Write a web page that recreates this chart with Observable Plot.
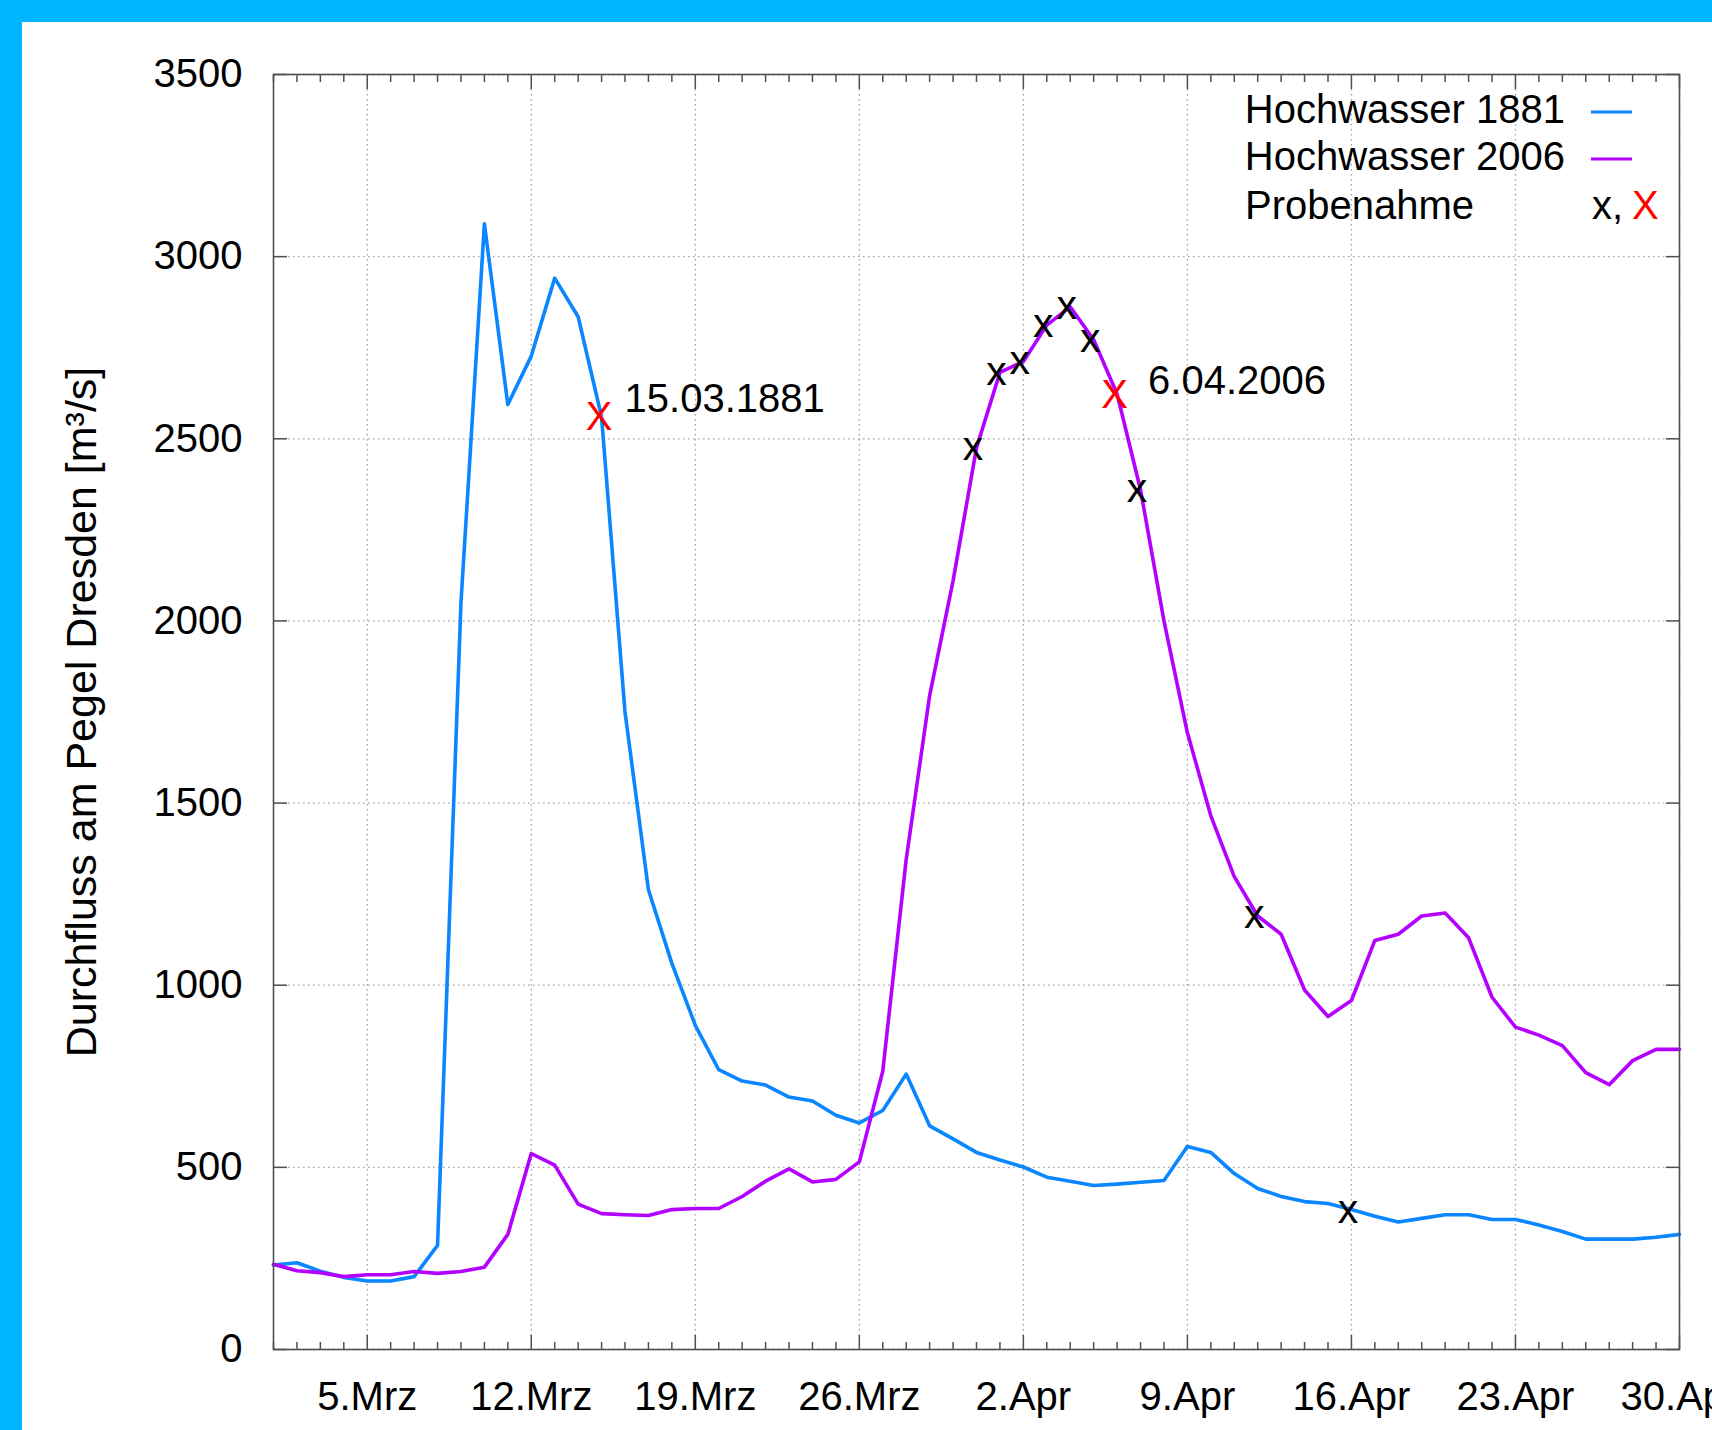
<!DOCTYPE html>
<html>
<head>
<meta charset="utf-8">
<script src="https://cdn.jsdelivr.net/npm/d3@7"></script>
<script src="https://cdn.jsdelivr.net/npm/@observablehq/plot@0.6"></script>
<style>
html, body { margin: 0; padding: 0; background: #00b6ff; width: 1712px; height: 1430px; overflow: hidden; }
#chart { position: absolute; left: 22px; top: 22px; width: 1690px; height: 1408px; background: #fff; overflow: hidden; }
#chart svg { overflow: hidden; }
</style>
</head>
<body>
<div id="chart"></div>
<script>
// ---- data (daily discharge, Pegel Dresden, m³/s), day 0 = 1 March ----
const startDay = [2006, 2, 1]; // common calendar axis (1 March)
const q1881 = [232, 238, 215, 198, 188, 188, 200, 286, 2050, 3090,
               2594, 2727, 2941, 2835, 2560, 1750, 1262, 1060, 890, 768,
               737, 726, 693, 682, 643, 622, 656, 756, 614, 578,
               541, 520, 501, 473, 462, 450, 454, 459, 464, 557,
               541, 483, 442, 420, 406, 401, 384, 366, 350, 360,
               370, 370, 357, 357, 342, 324, 303, 303, 303, 308, 316];
const q2006 = [234, 216, 211, 200, 205, 205, 214, 209, 214, 226,
               316, 538, 506, 399, 373, 370, 368, 384, 387, 387,
               420, 462, 496, 460, 467, 515, 764, 1345, 1795, 2110,
               2475, 2682, 2712, 2812, 2862, 2772, 2623, 2360, 2000, 1693,
               1465, 1298, 1190, 1140, 987, 914, 958, 1123, 1140, 1190,
               1198, 1130, 967, 885, 863, 834, 760, 727, 793, 824, 824];
const xTickDays = [4, 11, 18, 25, 32, 39, 46, 53, 60];
const xTickLabels = ["5.Mrz", "12.Mrz", "19.Mrz", "26.Mrz", "2.Apr", "9.Apr", "16.Apr", "23.Apr", "30.Apr"];
const yTicks = [0, 500, 1000, 1500, 2000, 2500, 3000, 3500];
// sampling days (Probenahme), as day index from 1 March
const samples1881Black = [46];                              // 16.04.1881
const samples2006Black = [30, 31, 32, 33, 34, 35, 37, 42];  // 31.03. – 12.04.2006
const samples1881Red = [14];                                // 15.03.1881
const samples2006Red = [36];                                // 06.04.2006
const redLabels1881 = ["15.03.1881"];
const redLabels2006 = ["6.04.2006"];
const legendTexts = ["Hochwasser 1881", "Hochwasser 2006", "Probenahme"];
const yLabel = "Durchfluss am Pegel Dresden [m³/s]";

// ---- build tables ----
const dayDate = (i) => new Date(Date.UTC(startDay[0], startDay[1], startDay[2] + i));
const rows1881 = q1881.map((q, i) => ({date: dayDate(i), q}));
const rows2006 = q2006.map((q, i) => ({date: dayDate(i), q}));
const pick = (rows, days) => days.map(d => rows[d]);
const majorDates = xTickDays.map(dayDate);
const labelOf = new Map(majorDates.map((d, i) => [+d, xTickLabels[i]]));
const minorDates = d3.range(q1881.length).map(dayDate).filter(d => !labelOf.has(+d));

const BLUE = "#0a86ff", PURPLE = "#b400ff", RED = "#ff0000", AX = "#505050";
const FONT = '"Liberation Sans", Arial, Helvetica, sans-serif';
const W = 1690, H = 1408;

const plot = Plot.plot({
  width: W, height: H,
  marginLeft: 251, marginRight: 33, marginTop: 52, marginBottom: 81,
  style: {fontFamily: FONT, fontSize: "40px", color: "#000", background: "#fff", overflow: "hidden"},
  x: {type: "utc", domain: [dayDate(0), dayDate(q1881.length - 1)]},
  y: {domain: [0, 3500]},
  marks: [
    Plot.gridX(majorDates, {stroke: "#a0a0a0", strokeOpacity: 1, strokeWidth: 1.3, strokeDasharray: "1.5,3.5"}),
    Plot.gridY(yTicks, {stroke: "#a0a0a0", strokeOpacity: 1, strokeWidth: 1.3, strokeDasharray: "1.5,3.5"}),
    Plot.lineY(rows1881, {x: "date", y: "q", stroke: BLUE, strokeWidth: 3.6}),
    Plot.lineY(rows2006, {x: "date", y: "q", stroke: PURPLE, strokeWidth: 3.6}),
    Plot.frame({stroke: AX, strokeWidth: 1.6}),
    // inward ticks (mirrored on all sides)
    Plot.axisX(majorDates, {anchor: "bottom", tickSize: -14, tickFormat: () => "", stroke: AX, strokeWidth: 1.5, label: null}),
    Plot.axisX(minorDates, {anchor: "bottom", tickSize: -7, tickFormat: () => "", stroke: AX, strokeWidth: 1.5, label: null}),
    Plot.axisX(majorDates, {anchor: "top", tickSize: -14, tickFormat: () => "", stroke: AX, strokeWidth: 1.5, label: null}),
    Plot.axisX(minorDates, {anchor: "top", tickSize: -7, tickFormat: () => "", stroke: AX, strokeWidth: 1.5, label: null}),
    Plot.axisY(yTicks, {anchor: "left", tickSize: -14, tickFormat: () => "", stroke: AX, strokeWidth: 1.5, label: null}),
    Plot.axisY(yTicks, {anchor: "right", tickSize: -14, tickFormat: () => "", stroke: AX, strokeWidth: 1.5, label: null}),
    // tick labels
    Plot.axisX(majorDates, {anchor: "bottom", tickSize: 0, tickPadding: 32, tickFormat: d => labelOf.get(+d), fill: "#000", fontSize: 40, label: null}),
    Plot.axisY(yTicks, {anchor: "left", tickSize: 0, tickPadding: 31, tickFormat: d => String(d), fill: "#000", fontSize: 40, label: null}),
    // y title
    Plot.text([yLabel], {frameAnchor: "left", textAnchor: "middle", rotate: -90, dx: -191, fontSize: 43, fill: "#000"}),
    // sampling markers
    Plot.text(pick(rows1881, samples1881Black), {x: "date", y: "q", text: () => "x", dx: -3.5, fontSize: 41, fill: "#000"}),
    Plot.text(pick(rows2006, samples2006Black), {x: "date", y: "q", text: () => "x", dx: -3.5, dy: -1, fontSize: 41, fill: "#000"}),
    Plot.text(pick(rows1881, samples1881Red), {x: "date", y: "q", text: () => "X", dx: -2.5, fontSize: 40, fill: RED}),
    Plot.text(pick(rows2006, samples2006Red), {x: "date", y: "q", text: () => "X", dx: -2.5, dy: 1, fontSize: 40, fill: RED}),
    // date annotations
    Plot.text(pick(rows1881, samples1881Red), {x: "date", y: "q", text: (d, i) => redLabels1881[i], textAnchor: "start", dx: 23, dy: -18, fontSize: 40, fill: "#000"}),
    Plot.text(pick(rows2006, samples2006Red), {x: "date", y: "q", text: (d, i) => redLabels2006[i], textAnchor: "start", dx: 31, dy: -13, fontSize: 40, fill: "#000"})
  ]
});
document.getElementById("chart").appendChild(plot);

// ---- legend (inside plot, top right) ----
const svg = d3.select(plot);
const lg = svg.append("g").attr("font-family", FONT).attr("font-size", 40).attr("fill", "#000");
lg.append("text").attr("x", 1543).attr("y", 101).attr("text-anchor", "end").text(legendTexts[0]);
lg.append("text").attr("x", 1543).attr("y", 148).attr("text-anchor", "end").text(legendTexts[1]);
lg.append("text").attr("x", 1223).attr("y", 197).attr("text-anchor", "start").text(legendTexts[2]);
lg.append("line").attr("x1", 1569).attr("x2", 1610).attr("y1", 90).attr("y2", 90).attr("stroke", BLUE).attr("stroke-width", 3);
lg.append("line").attr("x1", 1569).attr("x2", 1610).attr("y1", 137).attr("y2", 137).attr("stroke", PURPLE).attr("stroke-width", 3);
lg.append("text").attr("x", 1570).attr("y", 197).attr("text-anchor", "start").text("x,");
lg.append("text").attr("x", 1610).attr("y", 197).attr("text-anchor", "start").attr("fill", RED).text("X");
</script>
</body>
</html>
